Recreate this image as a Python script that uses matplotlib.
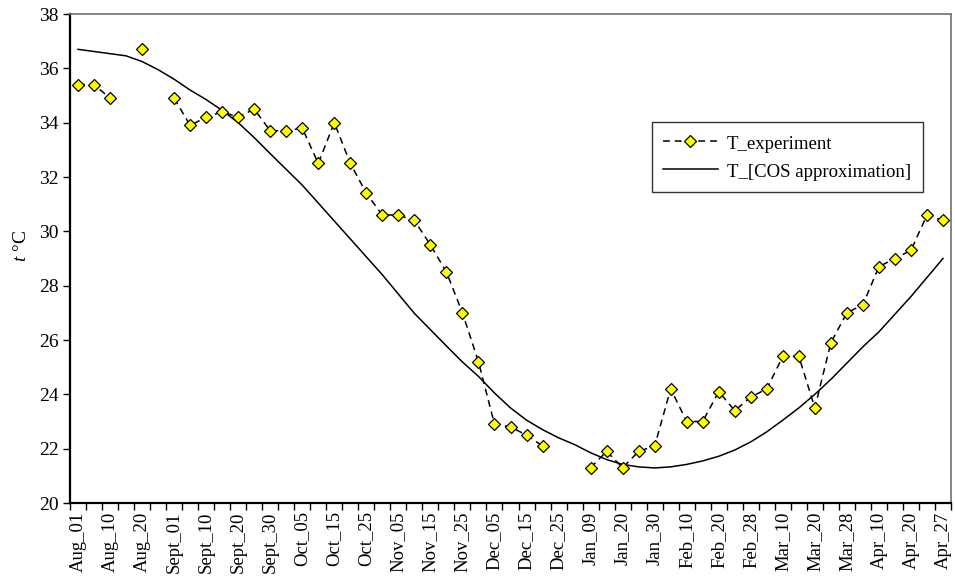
import numpy as np
import matplotlib
matplotlib.use("Agg")
import matplotlib.pyplot as plt

plt.rcParams['font.family'] = ['Liberation Serif', 'DejaVu Serif']
plt.rcParams['mathtext.fontset'] = 'custom'
plt.rcParams['mathtext.it'] = 'Liberation Serif:italic'
plt.rcParams['mathtext.rm'] = 'Liberation Serif'

# labels shown under every second category (55 categories in all)
tick_labels = ["Aug_01", "Aug_10", "Aug_20", "Sept_01", "Sept_10", "Sept_20",
               "Sept_30", "Oct_05", "Oct_15", "Oct_25", "Nov_05", "Nov_15",
               "Nov_25", "Dec_05", "Dec_15", "Dec_25", "Jan_09", "Jan_20",
               "Jan_30", "Feb_10", "Feb_20", "Feb_28", "Mar_10", "Mar_20",
               "Mar_28", "Apr_10", "Apr_20", "Apr_27"]
n_cat = 55

# measured temperature (None = no reading)
t_exp = [35.4, 35.4, 34.9, None, 36.7, None, 34.9, 33.9, 34.2, 34.4,
         34.2, 34.5, 33.7, 33.7, 33.8, 32.5, 34.0, 32.5, 31.4, 30.6,
         30.6, 30.4, 29.5, 28.5, 27.0, 25.2, 22.9, 22.8, 22.5, 22.1,
         None, None, 21.3, 21.9, 21.3, 21.9, 22.1, 24.2, 23.0, 23.0,
         24.1, 23.4, 23.9, 24.2, 25.4, 25.4, 23.5, 25.9, 27.0, 27.3,
         28.7, 29.0, 29.3, 30.6, 30.4]

# cosine approximation
t_cos = [36.7, 36.62, 36.54, 36.46, 36.25, 35.95, 35.6, 35.2, 34.85, 34.45,
         34.0, 33.45, 32.86, 32.28, 31.7, 31.04, 30.38, 29.72, 29.06, 28.4,
         27.69, 26.98, 26.38, 25.78, 25.19, 24.66, 24.05, 23.5, 23.05, 22.7,
         22.4, 22.15, 21.85, 21.6, 21.42, 21.33, 21.29, 21.33, 21.42, 21.55,
         21.72, 21.95, 22.25, 22.62, 23.05, 23.5, 24.0, 24.55, 25.15, 25.75,
         26.3, 26.95, 27.6, 28.3, 29.0]

x = np.arange(n_cat)
y_exp = np.array([np.nan if v is None else v for v in t_exp])

fig = plt.figure(figsize=(9.55, 5.77), dpi=100)
ax = fig.add_axes([70/955, 1-503/577, 881/955, 489/577])

ax.plot(x, y_exp, color='black', lw=1.1, dashes=(4.5, 3.2), marker='D', ms=6.5,
        mfc='#FFFF00', mec='black', mew=0.9, label='T_experiment', zorder=3)
ax.plot(x, t_cos, color='black', lw=1.1, label='T_[COS approximation]', zorder=2)

ax.set_xlim(-0.5, n_cat - 0.5)
ax.set_ylim(20, 38)
ax.set_yticks(np.arange(20, 39, 2))

ax.set_xticks(np.arange(0, n_cat, 2))
ax.set_xticklabels(tick_labels, rotation=90, va='top', ha='center')
ax.set_xticks(np.arange(-0.5, n_cat, 1), minor=True)
ax.tick_params(axis='x', which='major', length=0, pad=6, labelsize=13.5)
ax.tick_params(axis='x', which='minor', length=5, width=1, direction='out')
ax.tick_params(axis='y', length=5, width=1, direction='out', labelsize=14, pad=3)

ax.set_ylabel(r'$\it{t}$ °C', fontsize=14, labelpad=4)
ax.yaxis.set_label_coords(-0.045, 0.525)

for s in ['left', 'bottom']:
    ax.spines[s].set_linewidth(1.6)
    ax.spines[s].set_color('black')
for s in ['top', 'right']:
    ax.spines[s].set_linewidth(1.2)
    ax.spines[s].set_color('#707070')

leg = ax.legend(loc='upper right', bbox_to_anchor=(0.968, 0.779), borderaxespad=0,
                fontsize=13.5, frameon=True, fancybox=False, handlelength=2.9,
                handleheight=1.0, handletextpad=0.5, borderpad=0.62,
                labelspacing=0.5)
leg.get_frame().set_edgecolor('black')
leg.get_frame().set_linewidth(1)

fig.savefig('out.png', dpi=100)
